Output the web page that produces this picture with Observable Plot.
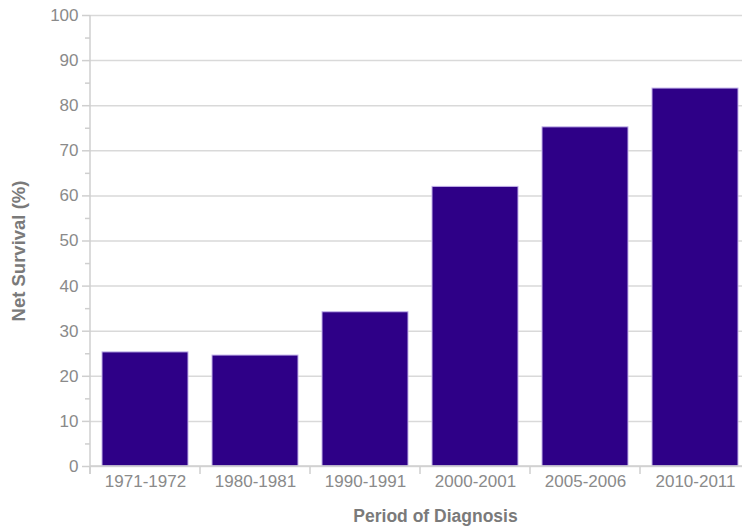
<!DOCTYPE html>
<html>
<head>
<meta charset="utf-8">
<script src="https://cdn.jsdelivr.net/npm/d3@7"></script>
<script src="https://cdn.jsdelivr.net/npm/@observablehq/plot@0.6"></script>
<style>
  html, body { margin: 0; padding: 0; background: #fff; overflow: hidden; }
  #chart { width: 742px; height: 527px; overflow: hidden; }
</style>
</head>
<body>
<div id="chart"></div>
<script>
const periods = ["1971-1972", "1980-1981", "1990-1991", "2000-2001", "2005-2006", "2010-2011"];
const survival = [25.3, 24.6, 34.2, 62.0, 75.2, 83.8];
const majorTicks = [0, 10, 20, 30, 40, 50, 60, 70, 80, 90, 100];
const minorTicks = [5, 15, 25, 35, 45, 55, 65, 75, 85, 95];
const xTitle = "Period of Diagnosis";
const yTitle = "Net Survival (%)";

const data = periods.map((p, i) => ({period: p, value: survival[i]}));

// custom mark: y axis line, x baseline + band boundary ticks on the x axis
function frameLines(index, scales, values, dims) {
  const g = d3.create("svg:g");
  const x = scales.x;
  const y = scales.y;
  const y0 = y(0);
  const step = x.step ? x.step() : (x(periods[1]) - x(periods[0]));
  const bw = x.bandwidth ? x.bandwidth() : step * 0.78;
  const gap = step - bw;
  const bounds = periods.map(p => x(p) - gap / 2);
  bounds.push(x(periods[periods.length - 1]) + bw + gap / 2);
  g.append("line")
    .attr("x1", dims.marginLeft).attr("x2", dims.width - dims.marginRight)
    .attr("y1", y0).attr("y2", y0)
    .attr("stroke", "#cfcfcf").attr("stroke-width", 1.5);
  bounds.forEach(b => {
    g.append("line")
      .attr("x1", b).attr("x2", b)
      .attr("y1", y0).attr("y2", y0 + 8)
      .attr("stroke", "#cfcfcf").attr("stroke-width", 1.5);
  });
  g.append("line")
    .attr("x1", dims.marginLeft).attr("x2", dims.marginLeft)
    .attr("y1", y(100)).attr("y2", y0 + 8)
    .attr("stroke", "#cfcfcf").attr("stroke-width", 1.5);
  return g.node();
}

const chart = Plot.plot({
  width: 742,
  height: 527,
  marginLeft: 90,
  marginRight: -8,
  marginTop: 15,
  marginBottom: 61,
  style: {fontFamily: "'Liberation Sans', Arial, sans-serif", fontSize: "17px", color: "#888", background: "#fff", overflow: "hidden"},
  x: {domain: periods, paddingInner: 0.218, paddingOuter: 0.109},
  y: {domain: [0, 100]},
  marks: [
    Plot.gridY(majorTicks, {stroke: "#d9d9d9", strokeOpacity: 1, strokeWidth: 1.5}),
    Plot.barY(data, {x: "period", y: "value", fill: "#2e0087", stroke: "#c3b3ea", strokeWidth: 1}),
    frameLines,
    Plot.axisY(majorTicks, {tickSize: 8, tickPadding: 4, stroke: "#cfcfcf", strokeWidth: 1.5, strokeOpacity: 1, fill: "#8a8a8a", fontSize: 17, label: null}),
    Plot.axisY(minorTicks, {tickSize: 5, stroke: "#cfcfcf", strokeWidth: 1.5, strokeOpacity: 1, text: null, label: null}),
    Plot.axisX({tickSize: 0, tickPadding: 8, fill: "#8a8a8a", fontSize: 17, label: null}),
    Plot.text([yTitle], {frameAnchor: "left", dx: -71.5, dy: 10, rotate: -90, lineAnchor: "middle", fontWeight: "bold", fontSize: 18.5, fill: "#7a7a7a", textAnchor: "middle"}),
    Plot.text([xTitle], {frameAnchor: "bottom", dx: 15, dy: 50, lineAnchor: "middle", fontWeight: "bold", fontSize: 17.5, fill: "#7a7a7a", textAnchor: "middle"})
  ]
});

document.getElementById("chart").append(chart);
</script>
</body>
</html>
